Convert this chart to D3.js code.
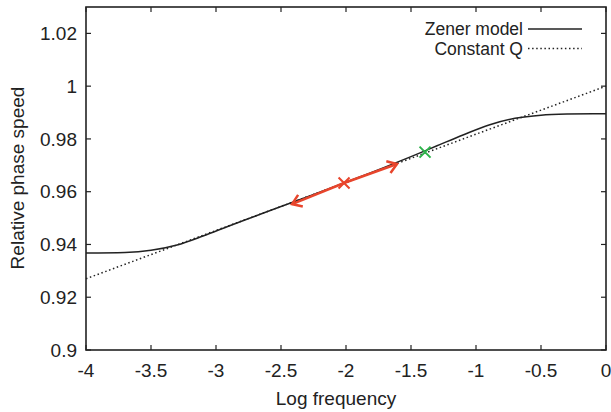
<!DOCTYPE html>
<html lang="en">
  <head>
    <meta charset="UTF-8" />
    <script src="https://d3js.org/d3.v7.min.js"></script>
    <title>Relative phase speed</title>
    <style>
      body {
        margin: 0;
        background: #fff;
      }
      text {
        font-family: "Liberation Sans", Arial, sans-serif;
        fill: #222;
      }
      .tick-label {
        font-size: 19px;
      }
      .legend-label {
        font-size: 17.5px;
      }
      .axis-label {
        font-size: 19px;
      }
    </style>
  </head>
  <body>
    <svg id="chart" width="611" height="412"></svg>

    <script>
      // values
      const zenerX = [-4, -3.7, -3.5, -3.3, -3.1, -2.9, -2.7, -2.5, -2.3, -2.1, -1.9, -1.7, -1.5, -1.3, -1.1, -0.9, -0.7, -0.5, -0.3, -0.1, 0];
      const zenerY = [0.9368, 0.937, 0.9378, 0.9398, 0.9432, 0.947, 0.9507, 0.9544, 0.958, 0.9617, 0.9655, 0.9693, 0.9733, 0.9774, 0.9815, 0.9853, 0.9878, 0.989, 0.9894, 0.9895, 0.9895];

      const constQX = [-4, -3, -2, -1, 0];
      const constQY = [0.927, 0.9453, 0.9635, 0.9818, 1.0];

      const redCross = [-2.015, 0.9633];
      const arrowEnds = [
        [-2.415, 0.9553],
        [-1.608, 0.9705],
      ];
      const greenCross = [-1.392, 0.975];

      const xTicks = [-4, -3.5, -3, -2.5, -2, -1.5, -1, -0.5, 0];
      const yTicks = [0.9, 0.92, 0.94, 0.96, 0.98, 1, 1.02];

      const svg = d3.select("#chart");

      const x = d3.scaleLinear().domain([-4, 0]).range([86, 606]);
      const y = d3.scaleLinear().domain([0.9, 1.03]).range([350, 7]);

      const tickLen = 5;
      const ink = "#222";

      // ticks, mirrored on all four sides, pointing inwards
      xTicks.forEach((t) => {
        svg.append("line")
          .attr("x1", x(t)).attr("x2", x(t))
          .attr("y1", y.range()[0]).attr("y2", y.range()[0] - tickLen)
          .attr("stroke", ink).attr("stroke-width", 1.2);
        svg.append("line")
          .attr("x1", x(t)).attr("x2", x(t))
          .attr("y1", y.range()[1]).attr("y2", y.range()[1] + tickLen)
          .attr("stroke", ink).attr("stroke-width", 1.2);
        svg.append("text")
          .attr("class", "tick-label")
          .attr("x", x(t))
          .attr("y", 377)
          .attr("text-anchor", "middle")
          .text(String(t));
      });

      yTicks.forEach((t) => {
        svg.append("line")
          .attr("x1", x.range()[0]).attr("x2", x.range()[0] + tickLen)
          .attr("y1", y(t)).attr("y2", y(t))
          .attr("stroke", ink).attr("stroke-width", 1.2);
        svg.append("line")
          .attr("x1", x.range()[1]).attr("x2", x.range()[1] - tickLen)
          .attr("y1", y(t)).attr("y2", y(t))
          .attr("stroke", ink).attr("stroke-width", 1.2);
        svg.append("text")
          .attr("class", "tick-label")
          .attr("x", 77)
          .attr("y", y(t))
          .attr("dy", "0.35em")
          .attr("text-anchor", "end")
          .text(String(t));
      });

      // curves
      const line = d3.line()
        .x((d) => x(d[0]))
        .y((d) => y(d[1]))
        .curve(d3.curveMonotoneX);

      svg.append("path")
        .datum(constQX.map((v, i) => [v, constQY[i]]))
        .attr("d", line)
        .attr("fill", "none")
        .attr("stroke", ink)
        .attr("stroke-width", 1.5)
        .attr("stroke-dasharray", "1.5,2.6");

      svg.append("path")
        .datum(zenerX.map((v, i) => [v, zenerY[i]]))
        .attr("d", line)
        .attr("fill", "none")
        .attr("stroke", ink)
        .attr("stroke-width", 1.5);

      // red double arrow
      const red = "#e8452c";
      const green = "#2db34a";

      arrowEnds.forEach((e) => {
        const x0 = x(redCross[0]), y0 = y(redCross[1]);
        const x1 = x(e[0]), y1 = y(e[1]);
        svg.append("line")
          .attr("x1", x0).attr("y1", y0)
          .attr("x2", x1).attr("y2", y1)
          .attr("stroke", red).attr("stroke-width", 2.5);
        const ang = Math.atan2(y1 - y0, x1 - x0);
        const len = 11, spread = 0.6;
        const a1 = [x1 - len * Math.cos(ang - spread), y1 - len * Math.sin(ang - spread)];
        const a2 = [x1 - len * Math.cos(ang + spread), y1 - len * Math.sin(ang + spread)];
        svg.append("path")
          .attr("d", `M${a1[0]},${a1[1]}L${x1},${y1}L${a2[0]},${a2[1]}`)
          .attr("fill", "none")
          .attr("stroke", red)
          .attr("stroke-width", 2.5)
          .attr("stroke-linejoin", "miter");
      });

      // crosses
      function cross(p, color) {
        const cx = x(p[0]), cy = y(p[1]), r = 5.5;
        svg.append("path")
          .attr("d", `M${cx - r},${cy - r}L${cx + r},${cy + r}M${cx - r},${cy + r}L${cx + r},${cy - r}`)
          .attr("stroke", color)
          .attr("stroke-width", 2);
      }
      cross(redCross, red);
      cross(greenCross, green);

      // frame
      svg.append("rect")
        .attr("x", x.range()[0])
        .attr("y", y.range()[1])
        .attr("width", x.range()[1] - x.range()[0])
        .attr("height", y.range()[0] - y.range()[1])
        .attr("fill", "none")
        .attr("stroke", ink)
        .attr("stroke-width", 1.6);

      // legend
      const legend = [
        { label: "Zener model", dash: null, ly: 29 },
        { label: "Constant Q", dash: "1.5,2.6", ly: 48.5 },
      ];
      legend.forEach((l) => {
        svg.append("text")
          .attr("class", "legend-label")
          .attr("x", 523)
          .attr("y", l.ly)
          .attr("dy", "0.35em")
          .attr("text-anchor", "end")
          .text(l.label);
        svg.append("line")
          .attr("x1", 528).attr("x2", 582)
          .attr("y1", l.ly).attr("y2", l.ly)
          .attr("stroke", ink)
          .attr("stroke-width", 1.5)
          .attr("stroke-dasharray", l.dash);
      });

      // axis labels
      svg.append("text")
        .attr("class", "axis-label")
        .attr("x", 336)
        .attr("y", 405)
        .attr("text-anchor", "middle")
        .text("Log frequency");

      svg.append("text")
        .attr("class", "axis-label")
        .attr("transform", "translate(24,178) rotate(-90)")
        .attr("text-anchor", "middle")
        .text("Relative phase speed");
    </script>
  </body>
</html>
